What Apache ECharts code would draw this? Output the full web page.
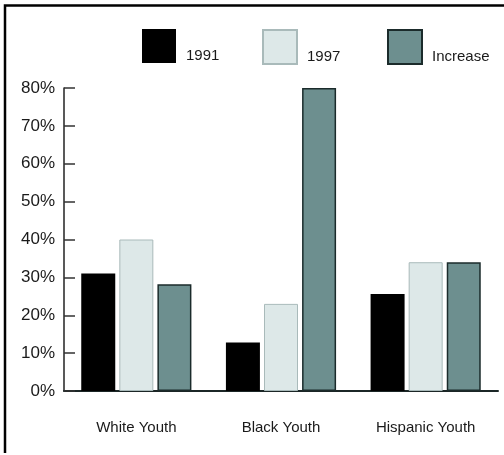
<!DOCTYPE html>
<html>
<head>
<meta charset="utf-8">
<script src="https://cdn.jsdelivr.net/npm/echarts@6/dist/echarts.min.js"></script>
<style>
  html, body { margin: 0; padding: 0; background: #ffffff; }
  #chart { width: 504px; height: 455px; }
</style>
</head>
<body>
<div id="chart"></div>
<script>
// Youth groups and the share (%) for each year, plus the relative increase
const categories = ['White Youth', 'Black Youth', 'Hispanic Youth'];
const seriesNames = ['1991', '1997', 'Increase'];
const values1991 = [31, 12.8, 25.6];
const values1997 = [40, 23, 34];
const valuesIncrease = [28.2, 80, 34];
const yTicks = [0, 10, 20, 30, 40, 50, 60, 70, 80];

const textColor = '#1a1a1a';
const font = 'Liberation Sans, Arial, sans-serif';

const chart = echarts.init(document.getElementById('chart'), null, { renderer: 'canvas' });

const styles = [
  { color: '#000000', borderColor: '#000000', borderWidth: 0 },
  { color: '#dde8e8', borderColor: '#a9baba', borderWidth: 1 },
  { color: '#6d8f8f', borderColor: '#1b2b2b', borderWidth: 1.5 }
];
const seriesData = [values1991, values1997, valuesIncrease];
const legendLeft = [137, 257, 382];

chart.setOption({
  animation: false,
  backgroundColor: '#ffffff',
  grid: { left: 64, right: 6, top: 88, bottom: 64, containLabel: false },
  legend: seriesNames.map((name, i) => ({
    data: [name],
    left: legendLeft[i],
    top: 24,
    icon: 'rect',
    itemWidth: 34,
    itemHeight: 34,
    selectedMode: false,
    formatter: '{lab|{name}}',
    textStyle: {
      color: textColor,
      fontFamily: font,
      fontSize: 15,
      rich: {
        lab: {
          color: textColor,
          fontFamily: font,
          fontSize: 15,
          padding: [20, 0, 0, 5]
        }
      }
    }
  })),
  xAxis: {
    type: 'category',
    data: categories,
    axisLine: { lineStyle: { color: '#1b2626', width: 2 } },
    axisTick: { inside: true, length: 6, lineStyle: { color: '#333333', width: 1.5 } },
    axisLabel: { color: textColor, fontFamily: font, fontSize: 15, margin: 29 }
  },
  yAxis: {
    type: 'value',
    min: yTicks[0],
    max: yTicks[yTicks.length - 1],
    interval: yTicks[1] - yTicks[0],
    axisLine: { show: true, lineStyle: { color: '#222222', width: 1.5 } },
    axisTick: { show: true, inside: true, length: 11, lineStyle: { color: '#333333', width: 1.5 } },
    splitLine: { show: false },
    axisLabel: {
      color: textColor,
      fontFamily: font,
      fontSize: 17,
      margin: 9,
      formatter: '{value}%'
    }
  },
  series: seriesNames.map((name, i) => ({
    name: name,
    type: 'bar',
    data: seriesData[i],
    barWidth: 34,
    barGap: '12%',
    itemStyle: styles[i]
  })),
  graphic: [{
    type: 'polyline',
    shape: { points: [[5, 453], [5, 5.5], [504, 5.5]] },
    style: { stroke: '#000000', lineWidth: 2.5, fill: null }
  }]
});
</script>
</body>
</html>
